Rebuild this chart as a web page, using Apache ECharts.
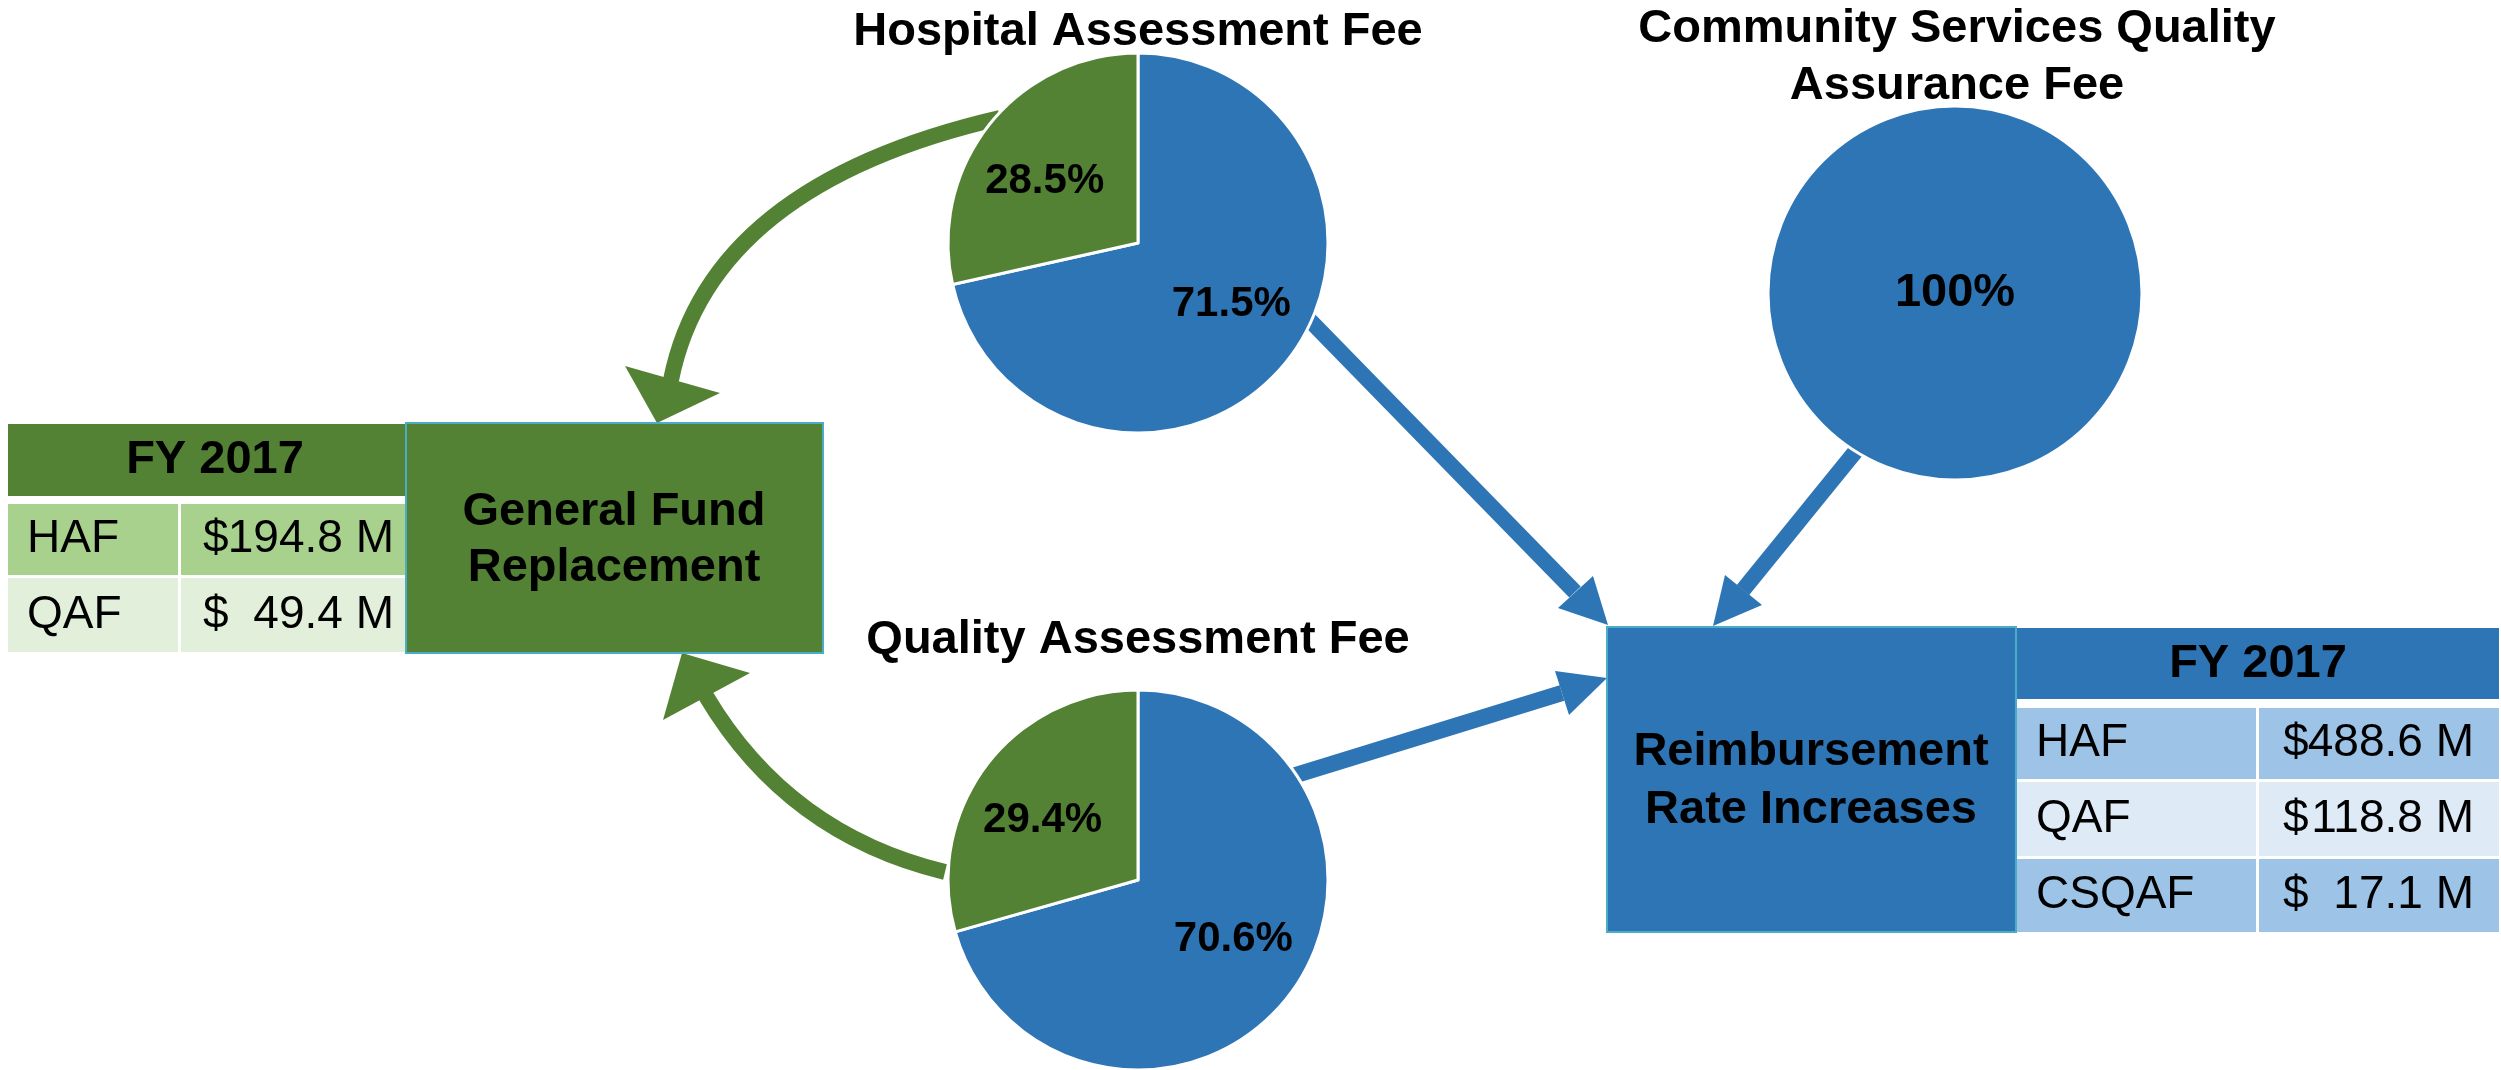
<!DOCTYPE html>
<html>
<head>
<meta charset="utf-8">
<title>FY 2017 fee flows</title>
<script src="https://cdn.jsdelivr.net/npm/echarts@6/dist/echarts.min.js"></script>
<style>
    html, body { margin: 0; padding: 0; background: #fff; }
    #main { width: 2501px; height: 1070px; }
</style>
</head>
<body>
<div id="main"></div>
<script>
    // pie shares in percent
    const sliceNames = ['Reimbursement Rate Increases', 'General Fund Replacement'];
    const hafShare = [71.5, 28.5];
    const qafShare = [70.6, 29.4];
    const csqafShare = [100];
    const pieTitles = ['Hospital Assessment Fee', 'Quality Assessment Fee', 'Community Services Quality', 'Assurance Fee'];

    // FY 2017 tables
    const tableHeader = 'FY 2017';
    const gfLabels = ['HAF', 'QAF'];
    const gfAmounts = ['194.8 M', '49.4 M'];
    const rriLabels = ['HAF', 'QAF', 'CSQAF'];
    const rriAmounts = ['488.6 M', '118.8 M', '17.1 M'];

    const GREEN = '#548235';
    const BLUE = '#2E75B6';
    const BORDER = '#4BACC6';
    const FAM = '"Liberation Sans", Arial, sans-serif';

    function txt(t, x, y, size, bold, align) {
        return {
            type: 'text', x: x, y: y, z: 5, silent: true,
            style: {
                text: t, fill: '#000', align: align || 'center', verticalAlign: 'middle',
                font: (bold ? 'bold ' : '') + size + 'px ' + FAM
            }
        };
    }
    function rect(x, y, w, h, fill, stroke) {
        return {
            type: 'rect', z: 4, silent: true,
            shape: {x: x, y: y, width: w, height: h},
            style: {fill: fill, stroke: stroke || null, lineWidth: stroke ? 2 : 0}
        };
    }

    const g = [];

    // arrows (under the pies)
    const arrows = [
        {color: GREEN, curve: [[1000, 118], [710, 185], [671, 380]], head: [[657, 423], [625, 366], [720, 393]]},
        {color: GREEN, curve: [[945, 872], [788, 834], [706, 696]], head: [[682, 653], [663, 720], [750, 673]]},
        {color: BLUE, curve: [[1290, 300], null, [1575, 592]], head: [[1608, 625], [1558, 608], [1593, 576]]},
        {color: BLUE, curve: [[1868, 436], null, [1743, 590]], head: [[1713, 626], [1725, 575], [1762, 605]]},
        {color: BLUE, curve: [[1270, 783], null, [1562, 693]], head: [[1607, 678], [1555, 671], [1569, 715]]}
    ];
    arrows.forEach(a => {
        const [p0, p1, p2] = a.curve;
        if (p1) {
            g.push({
                type: 'bezierCurve', z: 1, silent: true,
                shape: {x1: p0[0], y1: p0[1], cpx1: p1[0], cpy1: p1[1], x2: p2[0], y2: p2[1]},
                style: {stroke: a.color, lineWidth: 16, fill: null}
            });
        } else {
            g.push({
                type: 'line', z: 1, silent: true,
                shape: {x1: p0[0], y1: p0[1], x2: p2[0], y2: p2[1]},
                style: {stroke: a.color, lineWidth: 16}
            });
        }
        g.push({type: 'polygon', z: 1, silent: true, shape: {points: a.head}, style: {fill: a.color}});
    });

    // left table + General Fund box
    g.push(rect(8, 424, 400, 72, GREEN));
    g.push(txt(tableHeader, 215, 460, 47, true));
    const gfRowY = [504, 578];
    const gfRowH = [71, 74];
    const gfFill = ['#A9D18E', '#E2EFDA'];
    gfLabels.forEach((lab, i) => {
        g.push(rect(8, gfRowY[i], 170, gfRowH[i], gfFill[i]));
        g.push(rect(181, gfRowY[i], 227, gfRowH[i], gfFill[i]));
        const cy = gfRowY[i] + gfRowH[i] / 2;
        g.push(txt(lab, 27, cy, 46, false, 'left'));
        g.push(txt('$', 203, cy, 46, false, 'left'));
        g.push(txt(gfAmounts[i], 394, cy, 46, false, 'right'));
    });
    g.push(rect(406, 423, 417, 230, GREEN, BORDER));
    g.push(txt('General Fund', 614, 512, 47, true));
    g.push(txt('Replacement', 614, 568, 47, true));

    // Reimbursement box + right table
    g.push(rect(1607, 627, 409, 305, BLUE, BORDER));
    g.push(txt('Reimbursement', 1811, 752, 47, true));
    g.push(txt('Rate Increases', 1811, 810, 47, true));
    g.push(rect(2017, 628, 482, 71, BLUE));
    g.push(txt(tableHeader, 2258, 664, 47, true));
    const rriRowY = [708, 782, 859];
    const rriRowH = [71, 74, 73];
    const rriFill = ['#9DC3E6', '#DEEBF7', '#9DC3E6'];
    rriLabels.forEach((lab, i) => {
        g.push(rect(2017, rriRowY[i], 239, rriRowH[i], rriFill[i]));
        g.push(rect(2259, rriRowY[i], 240, rriRowH[i], rriFill[i]));
        const cy = rriRowY[i] + rriRowH[i] / 2;
        g.push(txt(lab, 2036, cy, 46, false, 'left'));
        g.push(txt('$', 2283, cy, 46, false, 'left'));
        g.push(txt(rriAmounts[i], 2474, cy, 46, false, 'right'));
    });

    // pie titles
    g.push(txt(pieTitles[0], 1138, 32, 47, true));
    g.push(txt(pieTitles[1], 1138, 640, 47, true));
    g.push(txt(pieTitles[2], 1957, 29, 47, true));
    g.push(txt(pieTitles[3], 1957, 86, 47, true));

    function pieSeries(values, center, colors, labelSize, labelPos) {
        return {
            type: 'pie',
            center: center,
            radius: 190,
            startAngle: 90,
            clockwise: true,
            silent: true,
            z: 2,
            data: values.map((v, i) => ({name: sliceNames[i], value: v, itemStyle: {color: colors[i]}})),
            itemStyle: {borderColor: '#fff', borderWidth: 3},
            label: {
                show: true, position: labelPos, formatter: '{d}%',
                fontSize: labelSize, fontWeight: 'bold', color: '#000', fontFamily: FAM
            },
            labelLine: {show: false},
            labelLayout: function (p) {
                if (labelPos === 'center') return {};
                const r = p.labelRect;
                const lx = r.x + r.width / 2;
                // push the inside labels a little outwards horizontally
                return {dx: (lx - center[0]) * 0.22};
            }
        };
    }

    const chart = echarts.init(document.getElementById('main'));
    chart.setOption({
        backgroundColor: '#fff',
        animation: false,
        graphic: {elements: g},
        series: [
            pieSeries(hafShare, [1138, 243], [BLUE, GREEN], 42, 'inside'),
            pieSeries(qafShare, [1138, 880], [BLUE, GREEN], 42, 'inside'),
            Object.assign(pieSeries(csqafShare, [1955, 293], [BLUE], 47, 'center'), {radius: 187})
        ]
    });
</script>
</body>
</html>
